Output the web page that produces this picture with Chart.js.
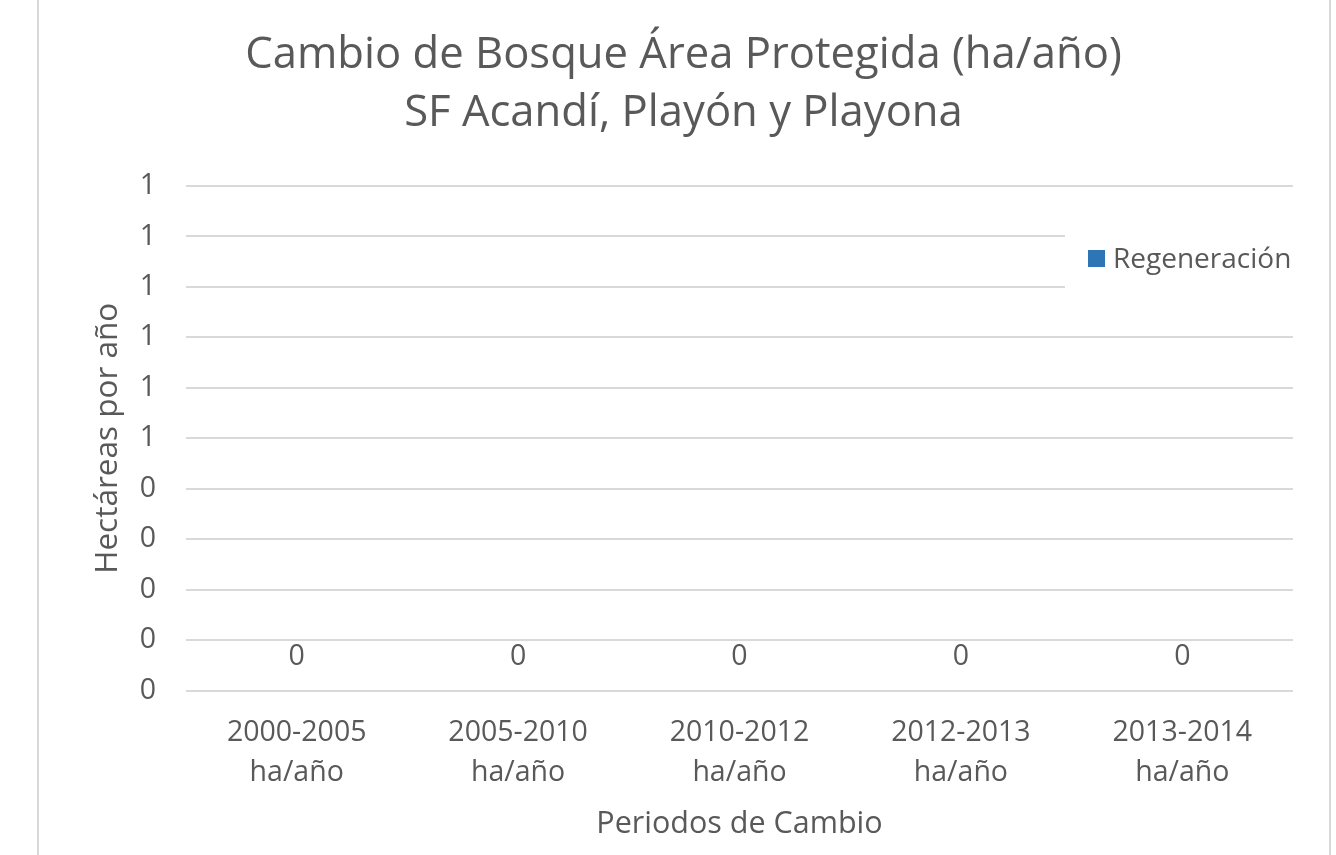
<!DOCTYPE html>
<html>
<head>
<meta charset="utf-8">
<script src="https://cdn.jsdelivr.net/npm/chart.js@4.4.1/dist/chart.umd.min.js"></script>
<style>
html,body{margin:0;padding:0;background:#fff;}
#wrap{position:absolute;left:0;top:0;width:1336px;height:855px;}
#frame{position:absolute;left:37px;top:0;width:1294px;height:855px;border-left:2px solid #d9d9d9;border-right:2px solid #d9d9d9;box-sizing:border-box;}
canvas{position:absolute;left:0;top:0;}
</style>
</head>
<body>
<div id="wrap"><div id="frame"></div><canvas id="c" width="1336" height="855"></canvas></div>
<script>
const titleLines = ["Cambio de Bosque Área Protegida (ha/año)", "SF Acandí, Playón y Playona"];
const categories = [["2000-2005","ha/año"],["2005-2010","ha/año"],["2010-2012","ha/año"],["2012-2013","ha/año"],["2013-2014","ha/año"]];
const seriesName = "Regeneración";
const regeneracion = [0, 0, 0, 0, 0];
const yTitle = "Hectáreas por año";
const xTitle = "Periodos de Cambio";

const FONT = "'Open Sans', 'Noto Sans', sans-serif";
const TXT = "#595959";
const BLUE = "#2E75B6";
const GRID = "#d9d9d9";

const dataLabels = {
  id: 'dataLabels',
  afterDatasetsDraw(chart) {
    const ctx = chart.ctx;
    const meta = chart.getDatasetMeta(0);
    const ys = chart.scales.y;
    ctx.save();
    ctx.font = "28.5px " + FONT;
    ctx.fillStyle = TXT;
    ctx.textAlign = 'center';
    ctx.textBaseline = 'middle';
    meta.data.forEach((el, i) => {
      const v = chart.data.datasets[0].data[i];
      ctx.fillText(Math.round(v).toString(), el.x, ys.getPixelForValue(v) - 34);
    });
    ctx.restore();
  }
};

const customLegend = {
  id: 'customLegend',
  afterDraw(chart) {
    const ctx = chart.ctx;
    const ds = chart.data.datasets[0];
    ctx.save();
    ctx.fillStyle = '#ffffff';
    ctx.fillRect(1065, 205, 232, 110);
    ctx.fillStyle = ds.backgroundColor;
    ctx.fillRect(1088, 250, 17, 17);
    ctx.font = "28px " + FONT;
    ctx.fillStyle = TXT;
    ctx.textAlign = 'left';
    ctx.textBaseline = 'middle';
    ctx.fillText(ds.label, 1113, 260);
    ctx.restore();
  }
};

new Chart(document.getElementById('c'), {
  type: 'bar',
  data: {
    labels: categories,
    datasets: [{ label: seriesName, data: regeneracion, backgroundColor: BLUE, borderWidth: 0 }]
  },
  options: {
    responsive: false,
    animation: false,
    devicePixelRatio: 1,
    layout: { padding: { left: 74, right: 43, top: 0, bottom: 12 } },
    plugins: {
      legend: { display: false },
      tooltip: { enabled: false },
      title: {
        display: true,
        text: titleLines,
        color: TXT,
        font: { family: FONT, size: 43.6, weight: 'normal', lineHeight: 1.33 },
        padding: { top: 27, bottom: 43 }
      }
    },
    scales: {
      x: {
        grid: { display: false, drawTicks: false },
        border: { display: false },
        ticks: { color: TXT, font: { family: FONT, size: 28.5, lineHeight: 1.4 }, padding: 22, maxRotation: 0 },
        title: { display: true, text: xTitle, color: TXT, font: { family: FONT, size: 30.5, lineHeight: 1.2 }, padding: { top: -8, bottom: 0 } }
      },
      y: {
        min: 0, max: 1,
        afterFit(s) { s.width = 112; },
        grid: { color: GRID, lineWidth: 2, drawTicks: false },
        border: { display: false },
        ticks: {
          stepSize: 0.1,
          color: TXT,
          font: { family: FONT, size: 28.5 },
          padding: 30,
          callback: v => Math.round(v).toString()
        },
        title: { display: true, text: yTitle, color: TXT, font: { family: FONT, size: 31.5, lineHeight: 1.2 }, padding: { top: 15, bottom: 0 } }
      }
    }
  },
  plugins: [dataLabels, customLegend]
});
</script>
</body>
</html>
